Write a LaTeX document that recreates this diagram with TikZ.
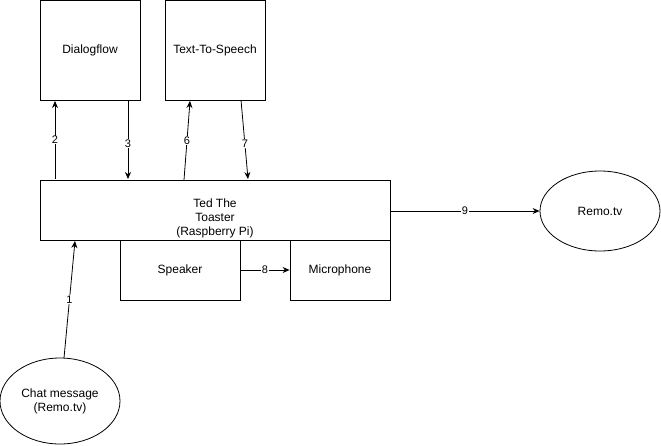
\documentclass[tikz,border=0pt]{standalone}
\usepackage{fontspec}
\setmainfont{Liberation Sans}
\usetikzlibrary{arrows.meta,shapes.geometric}
\begin{document}
\begin{tikzpicture}[x=1pt,y=-1pt,
  box/.style={draw,line width=0.8pt,fill=white,inner sep=0pt,font=\fontsize{12}{14}\selectfont,align=center},
  oval/.style={draw,line width=0.8pt,ellipse,inner sep=0pt,font=\fontsize{12}{14}\selectfont,align=center},
  txt/.style={inner sep=0pt,font=\fontsize{12}{14}\selectfont,align=center},
  conn/.style={line width=0.8pt,-{Stealth[length=7pt,width=6pt]}},
  lbl/.style={fill=white,inner sep=0.5pt,font=\fontsize{11}{12}\selectfont}]
\useasboundingbox (0,0) rectangle (661,445);
\fill[white] (0,0) rectangle (661,445);
\node[box,minimum width=100pt,minimum height=100pt] (dlg) at (90,50) {Dialogflow};
\node[box,minimum width=100pt,minimum height=100pt] (tts) at (215,50) {Text-To-Speech};
\node[box,minimum width=120pt,minimum height=60pt] (spk) at (180,270) {Speaker};
\node[box,minimum width=100pt,minimum height=60pt] (mic) at (340,270) {Microphone};
\node[box,minimum width=350pt,minimum height=60pt] (ted) at (215,210) {};
\node[txt] (tedtext) at (215,218) {Ted The\\Toaster\\(Raspberry Pi)};
\node[oval,minimum width=120pt,minimum height=80pt] (remo) at (600,211) {Remo.tv};
\node[oval,minimum width=120pt,minimum height=86pt] (chat) at (60,401) {Chat message\\(Remo.tv)};
\coordinate (c1s) at (64,358);
\coordinate (c1e) at (75,241);
\coordinate (c2s) at (55,179);
\coordinate (c2e) at (55,101);
\coordinate (c3s) at (128,100);
\coordinate (c3e) at (128,179);
\coordinate (c6s) at (184,180);
\coordinate (c6e) at (190,101);
\coordinate (c7s) at (241,100);
\coordinate (c7e) at (248,179);
\draw[conn] (c1s) -- node[lbl,pos=0.5] {1} (c1e);
\draw[conn] (c2s) -- node[lbl,pos=0.5] {2} (c2e);
\draw[conn] (c3s) -- node[lbl,pos=0.55] {3} (c3e);
\draw[conn] (c6s) -- node[lbl,pos=0.5] {6} (c6e);
\draw[conn] (c7s) -- node[lbl,pos=0.55] {7} (c7e);
\draw[conn] (spk.east) -- node[lbl] {8} (mic.west);
\draw[conn] (ted.east |- remo.west) -- node[lbl,pos=0.5] {9} (remo.west);
\end{tikzpicture}
\end{document}
